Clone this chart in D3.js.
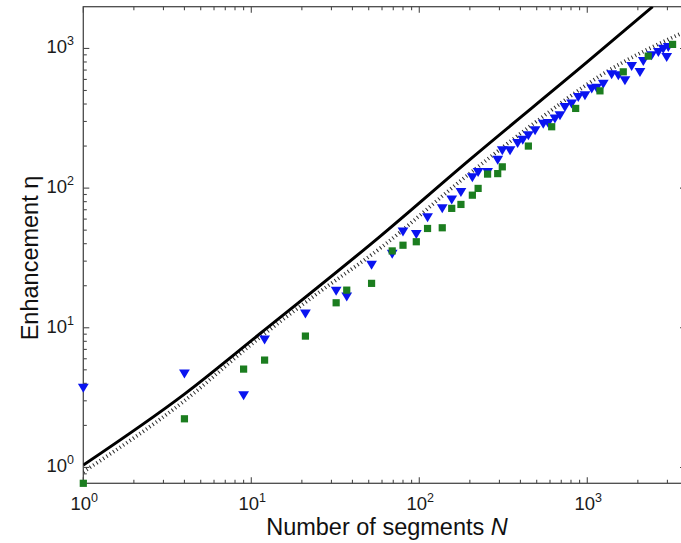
<!DOCTYPE html>
<html>
<head>
<meta charset="utf-8">
<script src="https://cdn.jsdelivr.net/npm/d3@7"></script>
<style>
    html, body { margin: 0; padding: 0; background: #ffffff; }
    svg { display: block; font-family: "Liberation Sans", Arial, sans-serif; }
</style>
</head>
<body>
<svg id="chart" width="681" height="543"></svg>
<script>
// Blue triangles (N, enhancement)
const blueN = [1, 4, 9, 12, 21, 32, 37, 52, 69, 80, 96, 112, 137, 156, 177, 207, 224, 255,
    293, 312, 347, 385, 413, 446, 489, 547, 585, 642, 688, 736, 807, 884, 969, 1063, 1137,
    1245, 1397, 1531, 1676, 1837, 2059, 2155, 2417, 2650, 2833, 2970, 3036];
const blueEta = [3.74, 4.72, 3.30, 8.26, 12.7, 18.5, 16.8, 28.4, 34, 49, 47, 62, 72, 83, 94, 120, 131, 131,
    160, 187, 187, 211, 223, 240, 260, 290, 293, 316, 333, 382, 404, 451, 463, 518, 525,
    561, 655, 644, 593, 751, 680, 815, 896, 946, 1000, 871, 1028];

// Green squares (N, enhancement)
const greenN = [1, 4, 9, 12, 21, 32, 37, 52, 69, 80, 96, 112, 137, 156, 177, 207, 224, 255,
    293, 312, 446, 614, 853, 1190, 1638, 2306, 3220];
const greenEta = [0.77, 2.23, 5.06, 5.87, 8.72, 15.1, 18.6, 20.8, 35.5, 39, 41.3, 51.4, 52, 71.6, 76.4, 89, 99.5, 126,
    127, 142, 200, 275, 372, 497, 680, 881, 1069];

// Solid reference curve
const solidN = [1, 4, 11.3, 58, 200, 1000, 2450];
const solidEta = [1.04, 3.35, 9.1, 44.8, 160, 800, 1990];

// Dotted reference curve
const dottedN = [1, 4, 10, 23, 60, 175, 480, 1200, 3870];
const dottedEta = [0.93, 3.0, 7.6, 16.5, 38, 112, 290, 640, 1330];

const xTickExps = [0, 1, 2, 3];
const yTickExps = [0, 1, 2, 3];
const xTitle = 'Number of segments ';
const xTitleVar = 'N';
const yTitle = 'Enhancement η';

/**
 * LogChart - draws the log-log enhancement plot
 */
class LogChart {
    constructor(svg) {
        this.svg = svg;
        this.left = 83.3;
        this.right = 686;
        this.top = 6.7;
        this.bottom = 483.3;
        this.x = d3.scaleLog().domain([1, 3870]).range([this.left, this.right]);
        this.y = d3.scaleLog().domain([0.77, 1990]).range([this.bottom, this.top]);
        this.axisColor = '#4a4a4a';
    }

    /**
     * Draw everything
     */
    render() {
        this.svg.append('defs').append('clipPath').attr('id', 'plot-clip')
            .append('rect')
            .attr('x', this.left).attr('y', this.top)
            .attr('width', this.right - this.left).attr('height', this.bottom - this.top);

        this.drawFrame();
        this.drawCurves();
        this.drawMarkers();
        this.drawTickLabels();
        this.drawTitles();
    }

    /**
     * Minor and major tick values for a log axis
     */
    logTicks(scale) {
        const [d0, d1] = scale.domain();
        const ticks = [];
        for (let e = Math.floor(Math.log10(d0)); e <= Math.ceil(Math.log10(d1)); e++) {
            for (let m = 1; m <= 9; m++) {
                const v = m * Math.pow(10, e);
                if (v >= d0 && v <= d1) ticks.push({ v: v, major: m === 1 });
            }
        }
        return ticks;
    }

    /**
     * Box and inward ticks on all four sides
     */
    drawFrame() {
        const g = this.svg.append('g').attr('class', 'frame')
            .attr('stroke', this.axisColor).attr('fill', 'none');

        g.append('rect')
            .attr('x', this.left).attr('y', this.top)
            .attr('width', this.right - this.left).attr('height', this.bottom - this.top)
            .attr('stroke-width', 1.3);

        const len = t => t.major ? 6 : 3.5;

        this.logTicks(this.x).forEach(t => {
            const px = this.x(t.v);
            g.append('line').attr('x1', px).attr('x2', px)
                .attr('y1', this.bottom).attr('y2', this.bottom - len(t)).attr('stroke-width', 1.1);
            g.append('line').attr('x1', px).attr('x2', px)
                .attr('y1', this.top).attr('y2', this.top + len(t)).attr('stroke-width', 1.1);
        });

        this.logTicks(this.y).forEach(t => {
            const py = this.y(t.v);
            g.append('line').attr('y1', py).attr('y2', py)
                .attr('x1', this.left).attr('x2', this.left + len(t)).attr('stroke-width', 1.1);
            g.append('line').attr('y1', py).attr('y2', py)
                .attr('x1', this.right).attr('x2', this.right - len(t)).attr('stroke-width', 1.1);
        });
    }

    /**
     * Solid and dotted reference lines
     */
    drawCurves() {
        const line = d3.line().x(d => this.x(d[0])).y(d => this.y(d[1])).curve(d3.curveMonotoneX);
        const g = this.svg.append('g').attr('clip-path', 'url(#plot-clip)');

        g.append('path')
            .datum(dottedN.map((n, i) => [n, dottedEta[i]]))
            .attr('d', line)
            .attr('fill', 'none')
            .attr('stroke', '#2a2a2a')
            .attr('stroke-width', 3.8)
            .attr('stroke-dasharray', '1,3');

        g.append('path')
            .datum(solidN.map((n, i) => [n, solidEta[i]]))
            .attr('d', line)
            .attr('fill', 'none')
            .attr('stroke', '#000000')
            .attr('stroke-width', 3);
    }

    /**
     * Data markers
     */
    drawMarkers() {
        const g = this.svg.append('g').attr('class', 'markers');

        g.selectAll('.tri')
            .data(blueN.map((n, i) => ({ n: n, eta: blueEta[i] })))
            .enter().append('path')
            .attr('class', 'tri')
            .attr('d', d => {
                const cx = this.x(d.n), cy = this.y(d.eta);
                return `M${cx - 5.4},${cy - 3.8}L${cx + 5.4},${cy - 3.8}L${cx},${cy + 5.2}Z`;
            })
            .attr('fill', '#0a14f0');

        g.selectAll('.sq')
            .data(greenN.map((n, i) => ({ n: n, eta: greenEta[i] })))
            .enter().append('rect')
            .attr('class', 'sq')
            .attr('x', d => this.x(d.n) - 3.6)
            .attr('y', d => this.y(d.eta) - 3.6)
            .attr('width', 7.2)
            .attr('height', 7.2)
            .attr('fill', '#1b7d1f');
    }

    /**
     * Power-of-ten labels with superscript exponent
     */
    powerLabel(sel, exp) {
        sel.append('tspan').text('10');
        sel.append('tspan')
            .attr('dy', -8)
            .attr('font-size', 12.5)
            .text(exp);
    }

    drawTickLabels() {
        const g = this.svg.append('g').attr('fill', '#1a1a1a').attr('font-size', 18.5);

        xTickExps.forEach(e => {
            const t = g.append('text')
                .attr('x', this.x(Math.pow(10, e)) + 1)
                .attr('y', 510)
                .attr('text-anchor', 'middle');
            this.powerLabel(t, e);
        });

        yTickExps.forEach(e => {
            const t = g.append('text')
                .attr('x', 74)
                .attr('y', this.y(Math.pow(10, e)) + 5)
                .attr('text-anchor', 'end');
            this.powerLabel(t, e);
        });
    }

    drawTitles() {
        const xt = this.svg.append('text')
            .attr('x', 387)
            .attr('y', 535)
            .attr('text-anchor', 'middle')
            .attr('font-size', 23.5)
            .attr('fill', '#111');
        xt.append('tspan').text(xTitle);
        xt.append('tspan').attr('font-style', 'italic').text(xTitleVar);

        this.svg.append('text')
            .attr('transform', 'translate(38,258) rotate(-90)')
            .attr('text-anchor', 'middle')
            .attr('font-size', 23.5)
            .attr('fill', '#111')
            .text(yTitle);
    }
}

const chart = new LogChart(d3.select('#chart'));
chart.render();
</script>
</body>
</html>
